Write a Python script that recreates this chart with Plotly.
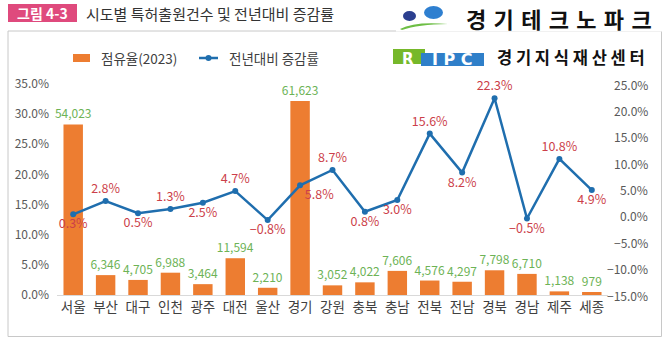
import plotly.graph_objects as go

regions = ["서울", "부산", "대구", "인천", "광주", "대전", "울산", "경기", "강원",
           "충북", "충남", "전북", "전남", "경북", "경남", "제주", "세종"]
share_2023 = [28.3, 3.3, 2.5, 3.7, 1.8, 6.1, 1.2, 32.2, 1.6, 2.1, 4.0, 2.4, 2.2, 4.1, 3.5, 0.6, 0.5]
counts_2023 = [54023, 6346, 4705, 6988, 3464, 11594, 2210, 61623, 3052,
               4022, 7606, 4576, 4297, 7798, 6710, 1138, 979]
yoy_change = [0.3, 2.8, 0.5, 1.3, 2.5, 4.7, -0.8, 5.8, 8.7, 0.8, 3.0, 15.6, 8.2, 22.3, -0.5, 10.8, 4.9]
yoy_label_pos = ["bottom center", "top center", "bottom center", "top center", "bottom center",
                 "top center", "bottom center", "bottom right", "top center", "bottom center",
                 "bottom center", "top center", "bottom center", "top center", "bottom center",
                 "top center", "bottom center"]
right_ticks = [-15, -10, -5, 0, 5, 10, 15, 20, 25]

W, H = 670, 344
L, R, T, B = 57, 608, 84, 295
FONT = "Noto Sans CJK KR"


def px(x):
    return (x - L) / (R - L)


def py(y):
    return (B - y) / (B - T)


ORANGE = "#ED7D31"
BLUE = "#1F6EAE"
GREEN = "#6DB356"
RED = "#CC3F4A"
TICK = "#595959"

fig = go.Figure()
fig.add_trace(go.Bar(
    x=regions, y=share_2023, name="점유율(2023)",
    marker=dict(color=ORANGE, line=dict(width=0)), width=0.6,
    text=[f"{c:,}" for c in counts_2023], textposition="outside", constraintext="none",
    textfont=dict(color=GREEN, size=12, family=FONT), cliponaxis=False,
    showlegend=False,
))
fig.add_trace(go.Scatter(
    x=regions, y=yoy_change, name="전년대비 증감률", yaxis="y2",
    mode="lines+markers+text",
    line=dict(color=BLUE, width=2.5), marker=dict(color=BLUE, size=6),
    text=[f"{v:.1f}%".replace("-", "−") for v in yoy_change],
    textposition=yoy_label_pos,
    textfont=dict(color=RED, size=12.5, family=FONT), cliponaxis=False,
    showlegend=False,
))

shapes = [
    # frame
    dict(type="rect", xref="paper", yref="paper", x0=px(8), x1=px(661.5), y0=py(31), y1=py(336.5),
         line=dict(color="#C8C8C8", width=1), fillcolor="rgba(0,0,0,0)", layer="below"),
    # white area behind top logo covering frame top line
    dict(type="rect", xref="paper", yref="paper", x0=px(396), x1=px(668), y0=py(2), y1=py(31.5),
         line=dict(width=0), fillcolor="white", layer="below"),
    # title tag
    dict(type="rect", xref="paper", yref="paper", x0=px(8), x1=px(77), y0=py(4), y1=py(22),
         line=dict(width=0), fillcolor="#DF4A7D"),
    # logo dots + swoosh
    dict(type="circle", xref="paper", yref="paper", x0=px(403), x1=px(416), y0=py(11), y1=py(21),
         line=dict(width=0), fillcolor="#2B3F8F"),
    dict(type="circle", xref="paper", yref="paper", x0=px(424), x1=px(443), y0=py(6), y1=py(19),
         line=dict(width=0), fillcolor="#2E7FD0"),
    dict(type="path", xref="paper", yref="paper",
         path=f"M {px(400)},{py(29)} Q {px(415)},{py(21)} {px(448)},{py(24)} Q {px(418)},{py(24.5)} {px(402)},{py(30)} Z",
         line=dict(width=0), fillcolor="#6DBE45"),
    # RIPC logo
    dict(type="rect", xref="paper", yref="paper", x0=px(393), x1=px(425), y0=py(49), y1=py(64),
         line=dict(width=0), fillcolor="#76B82A"),
    dict(type="rect", xref="paper", yref="paper", x0=px(421), x1=px(484), y0=py(53), y1=py(66),
         line=dict(width=0), fillcolor="#2F7FC9"),
    # legend symbols
    dict(type="rect", xref="paper", yref="paper", x0=px(73), x1=px(90), y0=py(54), y1=py(62),
         line=dict(width=0), fillcolor=ORANGE),
    dict(type="line", xref="paper", yref="paper", x0=px(199), x1=px(218), y0=py(58), y1=py(58),
         line=dict(color=BLUE, width=2.5)),
    dict(type="circle", xref="paper", yref="paper", x0=px(205.5), x1=px(211.5), y0=py(55), y1=py(61),
         line=dict(width=0), fillcolor=BLUE),
]

annotations = [
    dict(text="<b>그림 4-3</b>", x=px(42.5), y=py(13), xref="paper", yref="paper", showarrow=False,
         font=dict(color="white", size=14, family=FONT), xanchor="center", yanchor="middle"),
    dict(text="시도별 특허출원건수 및 전년대비 증감률", x=px(84), y=py(13), xref="paper", yref="paper",
         showarrow=False, font=dict(color="#333333", size=15, family=FONT),
         xanchor="left", yanchor="middle"),
    dict(text="<b>" + "\u2004".join("경기테크노파크") + "</b>", x=px(464), y=py(18),
         xref="paper", yref="paper", showarrow=False,
         font=dict(color="#111111", size=22, family=FONT), xanchor="left", yanchor="middle"),
    dict(text="<b>R</b>", x=px(408), y=py(59), xref="paper", yref="paper", showarrow=False,
         font=dict(color="white", size=15, family="DejaVu Sans"), xanchor="center", yanchor="middle"),
    dict(text="<b>I P C</b>", x=px(452), y=py(60), xref="paper", yref="paper",
         showarrow=False, font=dict(color="white", size=16, family="DejaVu Sans"),
         xanchor="center", yanchor="middle"),
    dict(text="<b>" + " ".join("경기지식재산센터") + "</b>", x=px(495), y=py(57), xref="paper",
         yref="paper", showarrow=False, font=dict(color="#111111", size=16.5, family=FONT),
         xanchor="left", yanchor="middle"),
    # legend texts
    dict(text="점유율(2023)", x=px(99), y=py(58), xref="paper", yref="paper", showarrow=False,
         font=dict(color="#404040", size=13.5, family=FONT), xanchor="left", yanchor="middle"),
    dict(text="전년대비 증감률", x=px(227), y=py(58), xref="paper", yref="paper", showarrow=False,
         font=dict(color="#404040", size=13.5, family=FONT), xanchor="left", yanchor="middle"),
]
# right axis tick labels, right-aligned like the original
for v in right_ticks:
    annotations.append(dict(text=f"{v:.1f}%".replace("-", "−"), x=px(650), y=v, xref="paper",
                            yref="y2", showarrow=False, xanchor="right", yanchor="middle",
                            font=dict(color=TICK, size=12, family=FONT)))

fig.update_layout(
    width=W, height=H,
    margin=dict(l=L, r=W - R, t=T, b=H - B, pad=0),
    paper_bgcolor="white", plot_bgcolor="white",
    font=dict(family=FONT, color=TICK, size=12),
    showlegend=False,
    bargap=0.4,
    xaxis=dict(showgrid=False, showline=True, linecolor="#D9D9D9", linewidth=1, automargin=False,
               range=[-0.5, len(regions) - 0.5], autorange=False,
               ticks="", tickfont=dict(size=13.5, color="#404040"), fixedrange=True),
    yaxis=dict(range=[0, 35], dtick=5, tickformat=".1f", ticksuffix="%", showgrid=False,
               zeroline=False, showline=False, automargin=False, ticklabelstandoff=7,
               tickfont=dict(size=12, color=TICK)),
    yaxis2=dict(range=[-15, 25], dtick=5, overlaying="y", side="right", showgrid=False,
                zeroline=False, showline=False, showticklabels=False, automargin=False),
    shapes=shapes, annotations=annotations,
)

fig.write_html("out.html")
